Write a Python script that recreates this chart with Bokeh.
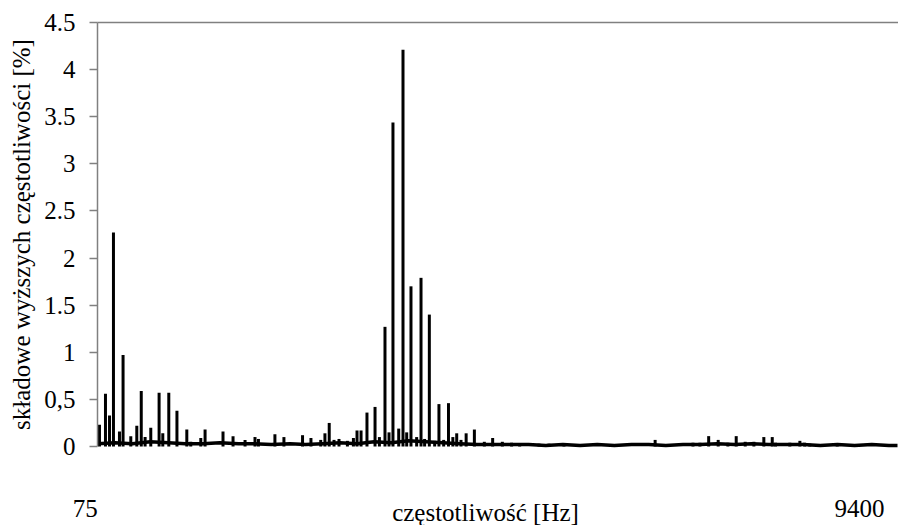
from bokeh.plotting import figure
from bokeh.models import Label, FixedTicker, Range1d, LinearAxis
from bokeh.embed import file_html
from bokeh.resources import INLINE

# ---- data ----
y_ticks = [0, 0.5, 1, 1.5, 2, 2.5, 3, 3.5, 4, 4.5]
y_tick_labels = ["0", "0,5", "1", "1.5", "2", "2.5", "3", "3.5", "4", "4.5"]

x_min, x_max = 75, 9400
x_start_label = "75"
x_end_label = "9400"
x_title = "częstotliwość [Hz]"
y_title = "składowe wyższych częstotliwości [%]"

spike_freq = [98, 168, 215, 261, 331, 373, 463, 533, 585, 630, 696, 793, 836, 906,
              1001, 1116, 1162, 1279, 1329, 1538, 1655, 1795, 1911, 1951, 2143, 2248,
              2465, 2563, 2677, 2726, 2776, 2832, 2890, 2988, 3058, 3100, 3147, 3216,
              3310, 3361, 3426, 3473, 3519, 3586, 3636, 3679, 3729, 3795, 3846, 3888,
              3943, 4005, 4055, 4110, 4166, 4217, 4262, 4312, 4372, 4468, 4584, 4681,
              4794, 4902, 4996, 5221, 5337, 5512, 6575, 7016, 7097, 7199, 7310, 7423,
              7520, 7625, 7726, 7842, 7940, 7978, 8145, 8262, 8317, 8378, 8697]
spike_val = [0.23, 0.56, 0.33, 2.27, 0.16, 0.97, 0.11, 0.22, 0.59, 0.10, 0.20, 0.57, 0.14, 0.57,
             0.38, 0.18, 0.05, 0.09, 0.18, 0.16, 0.11, 0.07, 0.10, 0.08, 0.13, 0.10,
             0.12, 0.09, 0.07, 0.14, 0.25, 0.07, 0.08, 0.06, 0.09, 0.17, 0.17, 0.36,
             0.42, 0.10, 1.27, 0.15, 3.44, 0.19, 4.21, 0.15, 1.70, 0.10, 1.79, 0.08,
             1.40, 0.06, 0.45, 0.07, 0.46, 0.10, 0.14, 0.07, 0.14, 0.18, 0.05, 0.09,
             0.05, 0.04, 0.03, 0.03, 0.03, 0.02, 0.07, 0.04, 0.04, 0.11, 0.07, 0.04,
             0.11, 0.05, 0.05, 0.10, 0.10, 0.04, 0.04, 0.06, 0.04, 0.03, 0.02]

floor_freq = [75, 280, 480, 690, 900, 1100, 1300, 1500, 1720, 1900, 2100, 2320, 2500,
              2700, 2900, 3100, 3300, 3500, 3700, 3900, 4100, 4300, 4500, 4700, 4900,
              5100, 5300, 5500, 5700, 5900, 6100, 6300, 6500, 6700, 6900, 7100, 7300,
              7500, 7700, 7900, 8100, 8300, 8500, 8700, 8900, 9100, 9300, 9400]
floor_val = [0.03, 0.04, 0.03, 0.05, 0.04, 0.03, 0.03, 0.04, 0.03, 0.03, 0.02, 0.03, 0.02,
             0.03, 0.04, 0.03, 0.05, 0.04, 0.06, 0.05, 0.04, 0.03, 0.02, 0.02, 0.02,
             0.02, 0.01, 0.02, 0.01, 0.02, 0.01, 0.02, 0.02, 0.01, 0.02, 0.02, 0.03,
             0.02, 0.03, 0.02, 0.02, 0.02, 0.01, 0.02, 0.01, 0.02, 0.01, 0.01]

# ---- layout (pixels); the drawing frame covers the whole canvas ----
W, H = 898, 525
AXIS_PX = 97      # where the value axis sits
RIGHT_PX = 897    # right end of the frequency span
TOP_PX = 22       # y of 4.5
ZERO_PX = 446     # y of 0

px_per_hz = (RIGHT_PX - AXIS_PX) / (x_max - x_min)
xr_start = x_min - AXIS_PX / px_per_hz
xr_end = x_max + (W - RIGHT_PX) / px_per_hz
y_top = y_ticks[-1]
px_per_unit = (ZERO_PX - TOP_PX) / y_top
yr_start = -(H - ZERO_PX) / px_per_unit
yr_end = y_top + TOP_PX / px_per_unit

FONT = "'Liberation Serif', 'Times New Roman', serif"
FS = "25px"
GREY = "#808080"

p = figure(width=W, height=H, output_backend="svg", toolbar_location=None,
           x_range=Range1d(xr_start, xr_end), y_range=Range1d(yr_start, yr_end),
           x_axis_location=None, y_axis_location=None,
           min_border_left=0, min_border_right=0, min_border_top=0, min_border_bottom=0)
p.outline_line_color = None
p.background_fill_color = "white"
p.border_fill_color = "white"
p.xgrid.visible = False
p.ygrid.visible = False

ax = LinearAxis(fixed_location=x_min, bounds=(0, y_top))
ax.ticker = FixedTicker(ticks=y_ticks)
ax.major_label_overrides = {t: l for t, l in zip(y_ticks, y_tick_labels)}
ax.major_tick_in = 0
ax.major_tick_out = 8
ax.minor_tick_line_color = None
ax.axis_line_color = GREY
ax.axis_line_width = 1.5
ax.major_tick_line_color = GREY
ax.major_tick_line_width = 1.5
ax.major_label_text_font = FONT
ax.major_label_text_font_size = FS
ax.major_label_text_color = "black"
ax.major_label_standoff = 14
ax.axis_label = y_title
ax.axis_label_text_font = FONT
ax.axis_label_text_font_size = FS
ax.axis_label_text_font_style = "normal"
ax.axis_label_text_color = "black"
ax.axis_label_standoff = 6
p.add_layout(ax, "left")

# top border of the plot area
p.line([x_min, xr_end], [y_top, y_top], line_color=GREY, line_width=1.5)

p.line(floor_freq, floor_val, line_color="black", line_width=3.5)
p.segment(x0=spike_freq, y0=[0] * len(spike_freq), x1=spike_freq, y1=spike_val,
          line_color="black", line_width=3)

# texts under the plot: screen units from the canvas' bottom-left corner
for txt, cx, cy in [(x_start_label, 84.7, 508), (x_end_label, 859, 508), (x_title, 485, 512)]:
    p.add_layout(Label(x=cx, y=H - cy, x_units="screen", y_units="screen",
                       text=txt, text_font=FONT, text_font_size=FS, text_color="black",
                       text_align="center", text_baseline="middle"))

open("out.html", "w").write(file_html(p, INLINE))
